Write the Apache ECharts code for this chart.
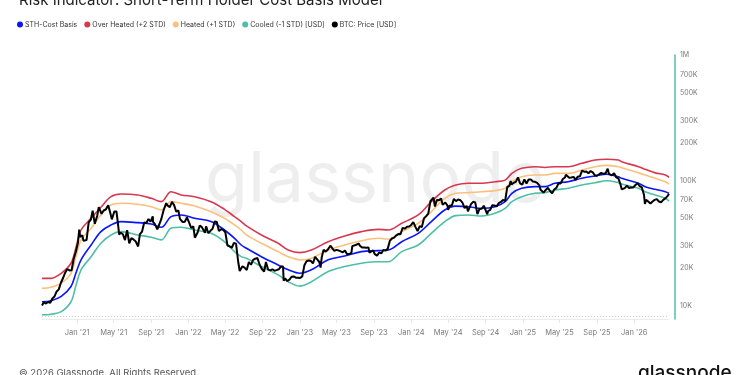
<!DOCTYPE html>
<html><head><meta charset="utf-8">
<script src="https://cdn.jsdelivr.net/npm/echarts@6/dist/echarts.min.js"></script>
<style>html,body{margin:0;padding:0;background:#fff}#c{width:750px;height:375px}</style>
</head><body><div id="c"></div>
<script>
const seriesNames = ['STH-Cost Basis', 'Over Heated (+2 STD)', 'Heated (+1 STD)', 'Cooled (-1 STD) [USD]', 'BTC: Price [USD]'];
const seriesColors = ['#0a14ff', '#d8384f', '#fbc17c', '#4dbfa8', '#000000'];

const bandDates = ['2020-09-08','2020-10-08','2020-11-10','2020-12-12','2020-12-28','2021-01-14','2021-02-16','2021-03-20','2021-04-22','2021-05-25','2021-07-19','2021-09-01','2021-10-04','2021-11-05','2021-12-08','2022-01-21','2022-03-16','2022-04-29','2022-06-01','2022-06-23','2022-07-10','2022-08-28','2022-10-22','2022-11-24','2023-01-01','2023-02-08','2023-04-04','2023-05-28','2023-07-22','2023-09-15','2023-10-18','2023-12-01','2024-01-24','2024-03-07','2024-04-20','2024-05-26','2024-07-06','2024-08-19','2024-10-02','2024-11-04','2024-11-26','2024-12-28','2025-02-10','2025-03-14','2025-04-16','2025-05-30','2025-07-13','2025-08-26','2025-10-03','2025-11-10','2025-11-21','2026-01-15','2026-02-06','2026-03-11','2026-04-13','2026-04-25'];
const overHeated = [16600,16600,18200,21900,29000,40300,50000,61100,74300,78000,76600,72100,67800,81400,76600,74300,67800,58900,51500,47000,43500,36800,31600,27900,26600,27900,32500,36100,39100,40800,40300,45600,53100,67800,84000,92000,95000,95000,97800,100700,114000,125000,128800,127000,128800,128800,137000,145600,147600,145600,141000,128800,122800,115000,110600,106000];
const heated = [13800,14100,15200,18200,24500,33600,41600,53100,63800,65800,64600,61800,58200,67800,65800,62600,56400,50000,44200,40300,36800,31600,27100,24700,23300,24000,27900,30600,33100,34600,34000,39100,45600,56400,72100,79000,80000,81400,83000,86700,97800,107000,110600,110600,114000,114000,121000,128800,132000,128800,126500,115000,110600,104000,97800,93300];
const sthCostBasis = [10800,11000,11900,14300,18200,23300,30600,39100,44200,47000,46100,45000,42400,51500,53100,50000,47000,40300,34600,30600,28800,24700,21200,19400,18200,19400,23300,25000,27100,27600,27900,32500,37900,47000,58200,62500,61800,60000,61800,67800,79000,86700,89300,89300,95000,97800,104000,108600,112000,107000,104000,95000,89300,85000,81400,79000];
const cooled = [8500,8600,9000,10800,14500,19400,24700,31600,36800,39100,36800,35300,33600,41600,42400,40300,37900,32500,27100,24700,24000,20600,17700,15600,14400,15600,18800,20600,21900,22500,22500,27100,30600,37900,47000,52500,53100,52100,54800,60000,67800,74300,79000,80000,84000,86700,92000,96000,99600,96000,93800,86700,81400,76600,72100,68500];

const btcDates = ['2020-09-08','2020-09-14','2020-09-21','2020-09-28','2020-10-05','2020-10-12','2020-10-19','2020-10-26','2020-11-02','2020-11-09','2020-11-16','2020-11-23','2020-11-30','2020-12-07','2020-12-14','2020-12-21','2020-12-28','2021-01-04','2021-01-08','2021-01-11','2021-01-18','2021-01-22','2021-01-25','2021-02-01','2021-02-08','2021-02-15','2021-02-21','2021-02-28','2021-03-08','2021-03-13','2021-03-22','2021-03-29','2021-04-05','2021-04-13','2021-04-19','2021-04-25','2021-05-03','2021-05-10','2021-05-13','2021-05-19','2021-05-24','2021-05-31','2021-06-07','2021-06-14','2021-06-21','2021-06-28','2021-07-05','2021-07-12','2021-07-20','2021-07-26','2021-08-02','2021-08-09','2021-08-16','2021-08-23','2021-08-30','2021-09-06','2021-09-07','2021-09-13','2021-09-21','2021-09-27','2021-10-04','2021-10-11','2021-10-20','2021-10-25','2021-11-01','2021-11-08','2021-11-15','2021-11-22','2021-11-29','2021-12-04','2021-12-13','2021-12-20','2021-12-27','2022-01-03','2022-01-10','2022-01-17','2022-01-22','2022-01-31','2022-02-07','2022-02-14','2022-02-24','2022-02-28','2022-03-07','2022-03-14','2022-03-21','2022-03-28','2022-04-04','2022-04-11','2022-04-18','2022-04-25','2022-05-02','2022-05-09','2022-05-16','2022-05-23','2022-05-30','2022-06-06','2022-06-13','2022-06-18','2022-06-27','2022-07-04','2022-07-11','2022-07-18','2022-07-25','2022-08-01','2022-08-08','2022-08-15','2022-08-22','2022-08-29','2022-09-06','2022-09-12','2022-09-19','2022-09-26','2022-10-03','2022-10-10','2022-10-17','2022-10-24','2022-10-31','2022-11-07','2022-11-09','2022-11-14','2022-11-21','2022-11-28','2022-12-05','2022-12-12','2022-12-19','2022-12-26','2023-01-02','2023-01-09','2023-01-16','2023-01-23','2023-01-30','2023-02-06','2023-02-13','2023-02-20','2023-02-27','2023-03-06','2023-03-10','2023-03-14','2023-03-20','2023-03-27','2023-04-03','2023-04-11','2023-04-17','2023-04-24','2023-05-01','2023-05-08','2023-05-15','2023-05-22','2023-05-29','2023-06-05','2023-06-12','2023-06-19','2023-06-22','2023-06-26','2023-07-03','2023-07-13','2023-07-17','2023-07-24','2023-07-31','2023-08-07','2023-08-14','2023-08-17','2023-08-21','2023-08-29','2023-09-04','2023-09-11','2023-09-18','2023-09-25','2023-10-02','2023-10-09','2023-10-16','2023-10-23','2023-10-30','2023-11-06','2023-11-13','2023-11-20','2023-11-27','2023-12-04','2023-12-11','2023-12-18','2023-12-25','2024-01-01','2024-01-08','2024-01-11','2024-01-15','2024-01-22','2024-01-29','2024-02-05','2024-02-12','2024-02-19','2024-02-26','2024-03-04','2024-03-07','2024-03-14','2024-03-19','2024-03-25','2024-04-01','2024-04-08','2024-04-13','2024-04-22','2024-04-29','2024-05-01','2024-05-06','2024-05-13','2024-05-20','2024-05-27','2024-06-03','2024-06-10','2024-06-17','2024-06-24','2024-07-01','2024-07-05','2024-07-08','2024-07-15','2024-07-22','2024-07-29','2024-08-05','2024-08-12','2024-08-19','2024-08-26','2024-09-02','2024-09-06','2024-09-09','2024-09-16','2024-09-23','2024-09-30','2024-10-07','2024-10-14','2024-10-21','2024-10-28','2024-11-04','2024-11-11','2024-11-18','2024-11-22','2024-11-25','2024-12-02','2024-12-09','2024-12-16','2024-12-23','2024-12-30','2025-01-06','2025-01-13','2025-01-20','2025-01-27','2025-02-03','2025-02-10','2025-02-17','2025-02-24','2025-02-28','2025-03-03','2025-03-10','2025-03-17','2025-03-24','2025-03-31','2025-04-07','2025-04-14','2025-04-21','2025-04-28','2025-05-05','2025-05-12','2025-05-19','2025-05-22','2025-05-26','2025-06-02','2025-06-09','2025-06-16','2025-06-23','2025-06-30','2025-07-07','2025-07-14','2025-07-21','2025-07-28','2025-08-04','2025-08-11','2025-08-14','2025-08-18','2025-08-25','2025-09-01','2025-09-08','2025-09-15','2025-09-22','2025-09-29','2025-10-06','2025-10-10','2025-10-13','2025-10-20','2025-10-27','2025-11-03','2025-11-10','2025-11-17','2025-11-21','2025-11-24','2025-12-01','2025-12-08','2025-12-15','2025-12-22','2025-12-29','2026-01-05','2026-01-12','2026-01-19','2026-01-26','2026-02-02','2026-02-05','2026-02-09','2026-02-16','2026-02-23','2026-03-02','2026-03-09','2026-03-16','2026-03-23','2026-03-30','2026-04-06','2026-04-13','2026-04-20','2026-04-25'];
const btcPrice = [10100,10700,10450,10750,10600,11450,11900,13050,13550,15300,16700,18400,19700,19200,19250,23800,27050,32000,40600,35500,36600,33000,32300,33500,46400,48700,57500,45200,52400,61200,54300,57700,58700,63500,56000,49000,56600,56700,49700,37000,38500,37300,33500,40200,31600,34700,33900,32700,29800,37300,39200,46300,45900,49300,47000,51800,46800,44900,40700,42200,49200,57400,65900,63000,61300,67500,63600,56300,57800,49400,46700,46900,50700,46400,41800,43100,35000,38500,43800,42500,38300,43200,38000,39700,41200,47100,46600,39500,40800,40400,38500,30300,29800,29100,31800,31400,22500,19000,20700,20200,19300,22400,21300,23300,23800,24100,21400,19800,18800,22400,19500,19200,19600,19100,19300,19600,20600,20600,15900,16600,15800,16200,17100,17200,16800,16800,16700,17200,21100,22700,23000,22900,21800,24600,23500,22400,20200,24600,28000,27100,28200,30200,29400,27500,28000,27700,27200,26800,27700,25800,25900,26500,30000,30300,30600,31400,30200,29200,29200,29100,29300,26600,26000,27700,25800,25100,26700,26200,27900,27600,28500,33000,34500,35000,36500,37400,37300,41900,41300,42700,43000,44200,46600,46300,42700,39500,43300,42600,49900,52000,54500,68300,66900,73000,62000,69900,69700,71700,64000,66800,63100,58300,63200,62900,71400,68500,70500,69600,66500,60300,62700,56700,56700,64800,67600,66800,54000,59300,59500,62900,57300,53900,57000,58200,63600,63300,62200,66000,67400,69900,68700,88700,90500,98900,93000,95900,97400,106000,94700,92700,102000,94500,102000,102000,98000,97500,95600,91500,84300,86000,80000,84000,87500,82500,79000,84600,87500,94900,94700,102800,105700,111000,109000,105000,105700,106800,101500,107200,108000,119800,117400,118000,114000,119000,121000,116000,110000,109000,112000,115000,113000,114000,124000,113000,114000,110000,114000,106000,104000,93000,85000,88000,87000,91000,87000,88000,88000,92000,95000,90000,88000,77000,65000,70000,68000,65500,68000,70000,71000,68000,67000,70000,72000,75000,78500];

const yTickValues = [10000, 20000, 30000, 50000, 70000, 100000, 200000, 300000, 500000, 700000, 1000000];
const xTickDates = ['2021-01-01','2021-05-01','2021-09-01','2022-01-01','2022-05-01','2022-09-01','2023-01-01','2023-05-01','2023-09-01','2024-01-01','2024-05-01','2024-09-01','2025-01-01','2025-05-01','2025-09-01','2026-01-01'];
const xRange = ['2020-09-08', '2026-04-25'];

const ts = s => { const p = s.split('-'); return Date.UTC(+p[0], +p[1] - 1, +p[2]); };
const months = ['Jan','Feb','Mar','Apr','May','Jun','Jul','Aug','Sep','Oct','Nov','Dec'];
const pair = (dates, vals) => dates.map((d, i) => [ts(d), vals[i]]);

const FONT = 'Inter, "Noto Sans", sans-serif';
const chart = echarts.init(document.getElementById('c'), null, {renderer: 'canvas'});

const bandSeries = [
  [seriesNames[0], sthCostBasis, seriesColors[0]],
  [seriesNames[1], overHeated, seriesColors[1]],
  [seriesNames[2], heated, seriesColors[2]],
  [seriesNames[3], cooled, seriesColors[3]]
].map(([name, vals, color]) => ({
  name, type: 'line', data: pair(bandDates, vals), showSymbol: false, smooth: 0.35,
  lineStyle: {width: 1.6, color}, itemStyle: {color}, z: 3
}));

chart.setOption({
  animation: false,
  backgroundColor: '#fff',
  textStyle: {fontFamily: FONT},
  title: {
    text: 'Risk Indicator: Short-Term Holder Cost Basis Model',
    left: 19, top: -7, padding: 0,
    textStyle: {fontSize: 15, fontWeight: 'normal', color: '#222', fontFamily: FONT}
  },
  legend: {
    data: seriesNames, left: 17, top: 21, icon: 'circle', itemWidth: 6, itemHeight: 6, itemGap: 7,
    padding: 0, textStyle: {fontSize: 7, color: '#333', fontFamily: FONT, padding: [0, 0, 0, -3]}
  },
  grid: {left: 42, right: 81, top: 55, bottom: 56},
  xAxis: {
    type: 'value', min: ts(xRange[0]), max: ts(xRange[1]), scale: true,
    axisLine: {show: true, lineStyle: {color: '#ececec', width: 1}},
    axisTick: {show: true, customValues: xTickDates.map(ts), length: 4, lineStyle: {color: '#e6e6e6'}},
    splitLine: {show: false},
    axisLabel: {
      customValues: xTickDates.map(ts), fontSize: 7.5, color: '#7a7a7a', margin: 10, fontFamily: FONT,
      formatter: v => { const d = new Date(v); return months[d.getUTCMonth()] + " '" + String(d.getUTCFullYear()).slice(2); }
    }
  },
  yAxis: {
    type: 'log', logBase: 10, min: 7870, max: 1000000, position: 'right', offset: 6,
    axisLine: {show: true, lineStyle: {color: '#5cc3b1', width: 1.6}},
    axisTick: {show: false},
    splitLine: {show: false},
    axisLabel: {
      customValues: yTickValues, fontSize: 7, color: '#7a7a7a', margin: 5, fontFamily: FONT,
      formatter: v => v >= 1000000 ? (v / 1000000) + 'M' : Math.round(v / 1000) + 'K'
    }
  },
  graphic: [
    {type: 'text', left: 'center', top: 146, z: 0, silent: true,
      style: {text: 'glassnode', fill: '#eeeeee', fontSize: 70, fontFamily: FONT, fontWeight: 400}},
    {type: 'text', left: 19, top: 368, silent: true,
      style: {text: '© 2026 Glassnode. All Rights Reserved.', fill: '#555', fontSize: 9.5, fontFamily: FONT}},
    {type: 'text', left: 638, top: 364, silent: true,
      style: {text: 'glassnode', fill: '#111', fontSize: 19, fontFamily: FONT, fontWeight: 500}}
  ],
  series: bandSeries.concat([{
    name: seriesNames[4], type: 'line', data: pair(btcDates, btcPrice), showSymbol: false,
    lineStyle: {width: 2, color: '#000'}, itemStyle: {color: '#000'}, z: 5,
    markLine: {
      silent: true, symbol: 'none', label: {show: false},
      lineStyle: {type: [1, 2], color: '#cfcfcf', width: 1},
      data: [{yAxis: 8300}]
    }
  }])
});
</script>
</body></html>
